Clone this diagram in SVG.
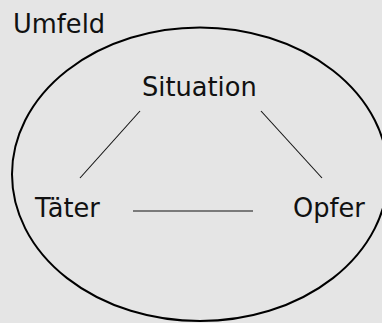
<svg xmlns="http://www.w3.org/2000/svg" width="382" height="323" viewBox="0 0 382 323">
<style>
text{font-family:"DejaVu Sans",Verdana,sans-serif;font-size:25.7px;fill:#111}
.c{stroke:#111;stroke-width:1.1;fill:none}
</style>
<rect width="382" height="323" fill="#e5e5e5"/>
<g id="umfeld">
<ellipse cx="200" cy="174.3" rx="188" ry="146.8" fill="none" stroke="#000" stroke-width="2"/>
<text x="13" y="33">Umfeld</text>
</g>
<g id="situation"><text x="142" y="96">Situation</text></g>
<g id="taeter"><text x="35" y="217">Täter</text></g>
<g id="opfer"><text x="293" y="217">Opfer</text></g>
<g id="connectors">
<line class="c" x1="140" y1="111" x2="80" y2="178"/>
<line class="c" x1="261" y1="111" x2="322" y2="178"/>
<line class="c" x1="133" y1="211" x2="253" y2="211"/>
</g>
</svg>
